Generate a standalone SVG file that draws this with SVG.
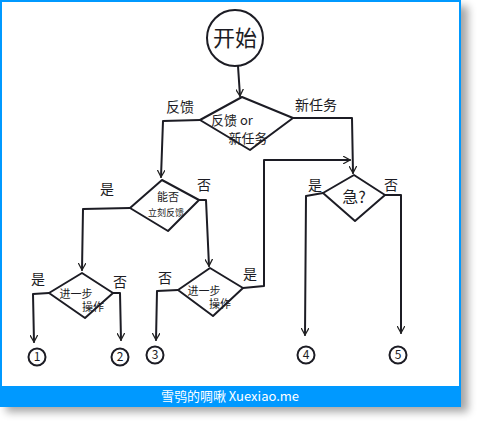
<svg xmlns="http://www.w3.org/2000/svg" width="481" height="427" viewBox="0 0 481 427">
<defs>
<filter id="sh" x="-10%" y="-10%" width="130%" height="130%"><feGaussianBlur stdDeviation="4"/></filter>
<marker id="ah" viewBox="0 0 10 10" refX="9" refY="5" markerWidth="8" markerHeight="8" orient="auto-start-reverse" markerUnits="userSpaceOnUse">
<path d="M0,0 L9,5 L0,10" fill="none" stroke="#222" stroke-width="1.6"/>
</marker>
</defs>
<style>
.ln{fill:none;stroke:#1c1c24;stroke-width:2;stroke-linejoin:round;stroke-linecap:round}
.sh{fill:#fff;stroke:#1c1c24;stroke-width:2;stroke-linejoin:round}
.t{font-family:"Noto Sans CJK SC","Noto Sans",sans-serif;fill:#1c1c24;text-anchor:middle}
.lb{font-size:14px}
.n{font-size:12px}
</style>
<rect x="6" y="6" width="462" height="406" fill="#000" opacity="0.35" filter="url(#sh)"/>
<rect x="0" y="0" width="461" height="407" fill="#0099ff"/>
<rect x="2" y="2" width="457" height="384" fill="#fff"/>
<text x="230" y="401" font-family="'Noto Sans CJK SC','Noto Sans',sans-serif" font-size="13" fill="#fff" text-anchor="middle">雪鸮的啁啾 Xuexiao.me</text>

<g id="connectors">
<path class="ln" d="M238,66 L240,96" marker-end="url(#ah)"/>
<path class="ln" d="M200,120 L163,121 L161,177" marker-end="url(#ah)"/>
<path class="ln" d="M293,118 L352,118 L353,173" marker-end="url(#ah)"/>
<path class="ln" d="M130,208 L83,209 L82,270" marker-end="url(#ah)"/>
<path class="ln" d="M199,200 L206,200 L209,266" marker-end="url(#ah)"/>
<path class="ln" d="M49,293 L33,294 L34,342" marker-end="url(#ah)"/>
<path class="ln" d="M113,293 L120,293 L121,340" marker-end="url(#ah)"/>
<path class="ln" d="M178,290 L157,291 L156,340" marker-end="url(#ah)"/>
<path class="ln" d="M243,288 L264,286 L264,160 L350,160" marker-end="url(#ah)"/>
<path class="ln" d="M323,193 L306,196 L305,335" marker-end="url(#ah)"/>
<path class="ln" d="M385,195 L401,195 L401,333" marker-end="url(#ah)"/>
<text class="t lb" x="180" y="112">反馈</text>
<text class="t lb" x="316" y="110">新任务</text>
<text class="t lb" x="107" y="194">是</text>
<text class="t lb" x="204" y="190">否</text>
<text class="t lb" x="38" y="284">是</text>
<text class="t lb" x="120" y="287">否</text>
<text class="t lb" x="165" y="283">否</text>
<text class="t lb" x="250" y="279">是</text>
<text class="t lb" x="315" y="190">是</text>
<text class="t lb" x="391" y="190">否</text>
</g>

<g id="start">
<circle class="sh" cx="235" cy="38" r="28"/>
<text class="t" x="235" y="46" font-size="22">开始</text>
</g>

<g id="d1">
<path class="sh" d="M242,97 L293,118 L250,150 L200,120 Z"/>
<text class="t" x="232" y="125" font-size="13">反馈 or</text>
<text class="t" x="248" y="143" font-size="13">新任务</text>
</g>

<g id="d2">
<path class="sh" d="M162,180 L199,200 L168,231 L130,208 Z"/>
<text class="t" x="168" y="201" font-size="11">能否</text>
<text class="t" x="166" y="216" font-size="9">立刻反馈</text>
</g>

<g id="d3">
<path class="sh" d="M82,273 L113,293 L85,318 L49,293 Z"/>
<text class="t" x="76" y="298" font-size="11">进一步</text>
<text class="t" x="93" y="311" font-size="11">操作</text>
</g>

<g id="d4">
<path class="sh" d="M210,268 L243,288 L213,316 L178,290 Z"/>
<text class="t" x="204" y="295" font-size="11">进一步</text>
<text class="t" x="220" y="308" font-size="11">操作</text>
</g>

<g id="d5">
<path class="sh" d="M354,175 L385,195 L355,221 L323,193 Z"/>
<text class="t" x="354" y="203" font-size="16">急?</text>
</g>

<g id="o1"><circle class="sh" cx="37" cy="357" r="8.5" stroke-width="1.5"/><text class="t n" x="37" y="361">1</text></g>
<g id="o2"><circle class="sh" cx="120" cy="357" r="8.5" stroke-width="1.5"/><text class="t n" x="120" y="361">2</text></g>
<g id="o3"><circle class="sh" cx="155" cy="355" r="8.5" stroke-width="1.5"/><text class="t n" x="155" y="359">3</text></g>
<g id="o4"><circle class="sh" cx="306" cy="355" r="8.5" stroke-width="1.5"/><text class="t n" x="306" y="359">4</text></g>
<g id="o5"><circle class="sh" cx="398" cy="355" r="8.5" stroke-width="1.5"/><text class="t n" x="398" y="359">5</text></g>
</svg>
